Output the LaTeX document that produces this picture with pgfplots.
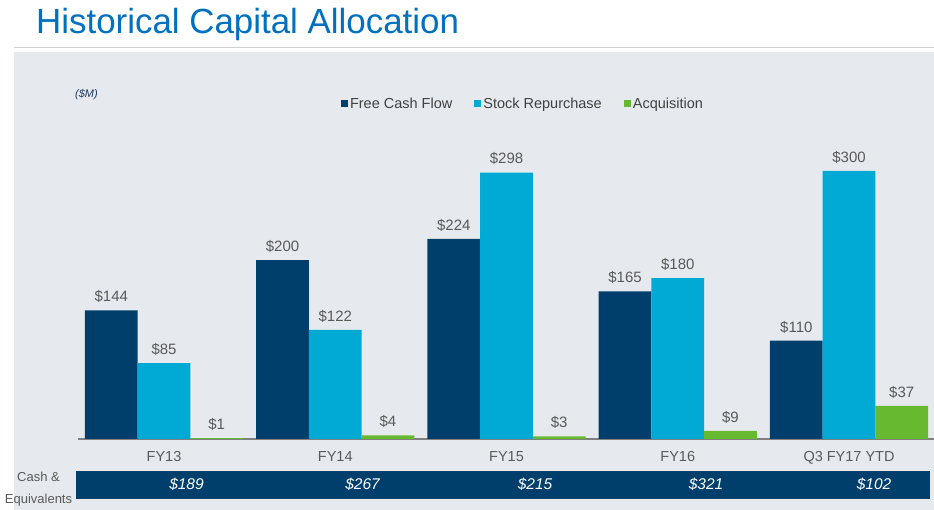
\documentclass[border=0pt]{standalone}
\usepackage{pgfplots}
\pgfplotsset{compat=1.18}
\usepackage{fontspec}
\setmainfont{Liberation Sans}
\definecolor{fcf}{RGB}{0,63,107}
\definecolor{sr}{RGB}{0,170,212}
\definecolor{acq}{RGB}{103,185,48}
\definecolor{bg}{RGB}{230,234,238}
\definecolor{titleblue}{RGB}{0,112,192}
\definecolor{lbl}{RGB}{89,89,89}
\definecolor{unitblue}{RGB}{31,56,100}
\begin{document}
\begin{tikzpicture}
\fill[white] (0pt,0pt) rectangle (934pt,510pt);
\fill[bg] (14pt,0pt) rectangle (934pt,458pt);
\draw[line width=1.5pt, black!18] (14pt,462.5pt) -- (934pt,462.5pt);
\node[anchor=base west, inner sep=0pt, font=\fontsize{34.9}{40}\selectfont, text=titleblue] at (36pt,476.7pt) {Historical Capital Allocation};
\node[anchor=base west, inner sep=0pt, font=\fontsize{11}{13}\selectfont\itshape, text=unitblue] at (75pt,412pt) {(\$M)};
\fill[fcf] (76pt,11.3pt) rectangle (930pt,39pt);
\node[anchor=base, inner sep=0pt, font=\fontsize{13}{15}\selectfont, text=lbl] at (38.5pt,28.3pt) {Cash \&};
\node[anchor=base, inner sep=0pt, font=\fontsize{13}{15}\selectfont, text=lbl] at (38.5pt,6pt) {Equivalents};
\begin{axis}[
  at={(78.4pt,71pt)}, anchor=south west,
  scale only axis, width=856.25pt, height=295pt,
  xmin=-0.5, xmax=4.5, ymin=0, ymax=330,
  enlargelimits=false, clip=false,
  /pgf/number format/assume math mode=true,
  ybar=0pt, bar width=0.3077,
  axis y line=none,
  axis x line*=bottom,
  x axis line style={-, draw=black!50, line width=2pt},
  xtick={0,1,2,3,4},
  xticklabels={FY13,FY14,FY15,FY16,Q3 FY17 YTD},
  major tick length=0pt,
  xticklabel style={anchor=base, inner sep=0pt, yshift=-22.7pt, font=\fontsize{14.5}{17}\selectfont, text=lbl},
  nodes near coords={\$\pgfmathprintnumber{\pgfplotspointmeta}},
  every node near coord/.append style={font=\fontsize{15}{18}\selectfont, text=lbl, anchor=base, inner sep=0pt, yshift=8.6pt},
  legend style={draw=none, fill=none, at={(0.3067,1.137)}, anchor=west, legend columns=-1,
    font=\fontsize{14.5}{17}\selectfont, text=black!75, inner sep=0pt, outer sep=0pt,
    /tikz/every even column/.append style={column sep=20pt}},
  legend image code/.code={\fill[#1,draw=none] (0pt,-3.5pt) rectangle (7pt,3.5pt);},
]
\addplot[fill=fcf, draw=none] coordinates {(0,144) (1,200) (2,224) (3,165) (4,110)};
\addplot[fill=sr, draw=none] coordinates {(0,85) (1,122) (2,298) (3,180) (4,300)};
\addplot[fill=acq, draw=none] coordinates {(0,1) (1,4) (2,3) (3,9) (4,37)};
\legend{Free Cash Flow, Stock Repurchase, Acquisition}
\end{axis}
\foreach \xx/\vv in {186.5/189, 362.5/267, 535/215, 706/321, 874/102}
  \node[anchor=base, inner sep=0pt, font=\fontsize{15.5}{18}\selectfont\itshape, text=white] at (\xx pt,20pt) {\$\vv};
\pgfresetboundingbox
\path[use as bounding box] (0pt,0pt) rectangle (934pt,510pt);
\end{tikzpicture}
\end{document}
